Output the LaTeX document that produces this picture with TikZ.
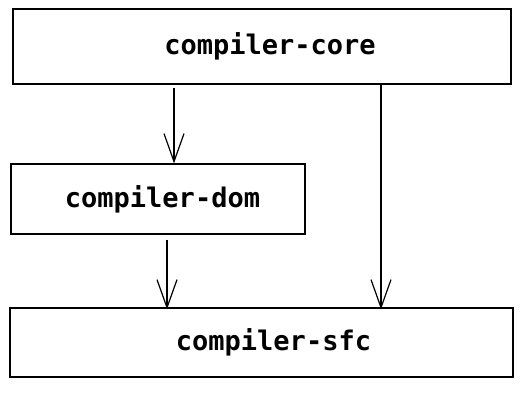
\documentclass[tikz,border=0pt]{standalone}
\usepackage{fontspec}
\setmonofont{DejaVu Sans Mono}
\usetikzlibrary{arrows.meta}
\tikzset{
  pkg/.style={draw, line width=1.2pt, inner sep=0pt,
    font=\ttfamily\bfseries\fontsize{27}{31}\selectfont},
  dep/.style={line width=1.2pt, -{Straight Barb[length=28pt,width=20pt]}}
}
\begin{document}
\begin{tikzpicture}[x=1pt,y=-1pt]
  \useasboundingbox (0,0) rectangle (524,402);
  \node[pkg, minimum width=498pt, minimum height=75pt] (core) at (262,46.5) {\hspace*{16pt}compiler-core};
  \node[pkg, minimum width=294pt, minimum height=70pt] (dom) at (158,199) {\hspace*{9pt}compiler-dom};
  \node[pkg, minimum width=503pt, minimum height=69pt] (sfc) at (261.5,342.5) {\hspace*{24pt}compiler-sfc};
  % dependencies
  \draw[dep] ([yshift=-3pt]core.south -| 174,0) -- (dom.north -| 174,0);
  \draw[dep] ([yshift=-5pt]dom.south -| 167,0) -- ([yshift=-2pt]sfc.north -| 167,0);
  \draw[dep] (core.south -| 381,0) -- ([yshift=-2pt]sfc.north -| 381,0);
\end{tikzpicture}
\end{document}
